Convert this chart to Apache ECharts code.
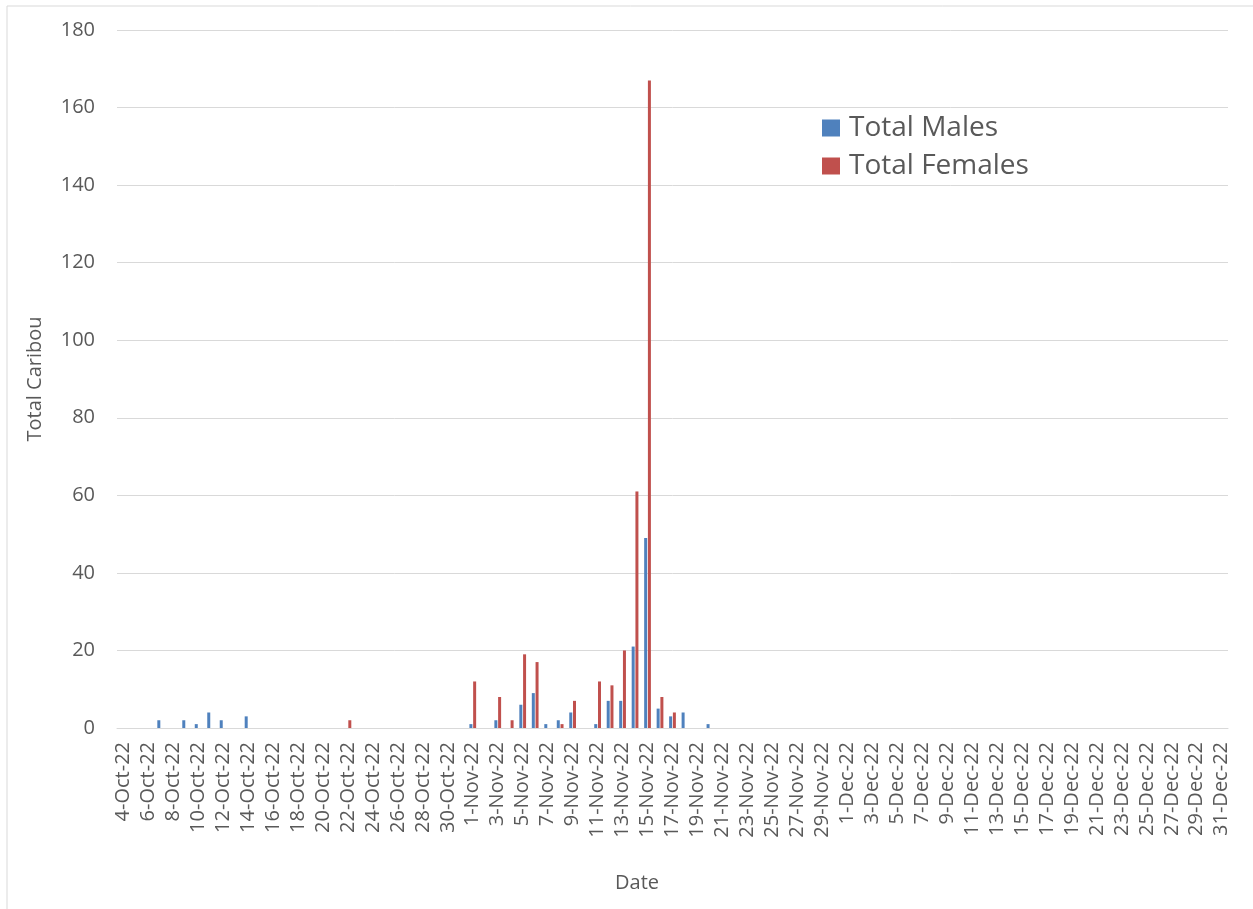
<!DOCTYPE html>
<html>
<head>
<meta charset="utf-8">
<script src="https://cdn.jsdelivr.net/npm/echarts@6/dist/echarts.min.js"></script>
<style>
html,body{margin:0;padding:0;background:#fff;}
#chart{width:1253px;height:909px;}
</style>
</head>
<body>
<div id="chart"></div>
<script>
const octDates = ["4-Oct-22","5-Oct-22","6-Oct-22","7-Oct-22","8-Oct-22","9-Oct-22","10-Oct-22","11-Oct-22","12-Oct-22","13-Oct-22","14-Oct-22","15-Oct-22","16-Oct-22","17-Oct-22","18-Oct-22","19-Oct-22","20-Oct-22","21-Oct-22","22-Oct-22","23-Oct-22","24-Oct-22","25-Oct-22","26-Oct-22","27-Oct-22","28-Oct-22","29-Oct-22","30-Oct-22","31-Oct-22"];
const novDates = ["1-Nov-22","2-Nov-22","3-Nov-22","4-Nov-22","5-Nov-22","6-Nov-22","7-Nov-22","8-Nov-22","9-Nov-22","10-Nov-22","11-Nov-22","12-Nov-22","13-Nov-22","14-Nov-22","15-Nov-22","16-Nov-22","17-Nov-22","18-Nov-22","19-Nov-22","20-Nov-22","21-Nov-22","22-Nov-22","23-Nov-22","24-Nov-22","25-Nov-22","26-Nov-22","27-Nov-22","28-Nov-22","29-Nov-22","30-Nov-22"];
const decDates = ["1-Dec-22","2-Dec-22","3-Dec-22","4-Dec-22","5-Dec-22","6-Dec-22","7-Dec-22","8-Dec-22","9-Dec-22","10-Dec-22","11-Dec-22","12-Dec-22","13-Dec-22","14-Dec-22","15-Dec-22","16-Dec-22","17-Dec-22","18-Dec-22","19-Dec-22","20-Dec-22","21-Dec-22","22-Dec-22","23-Dec-22","24-Dec-22","25-Dec-22","26-Dec-22","27-Dec-22","28-Dec-22","29-Dec-22","30-Dec-22","31-Dec-22"];

const malesOct = [0,0,0,2,0,2,1,4,2,0,3,0,0,0,0,0,0,0,0,0,0,0,0,0,0,0,0,0];
const malesNov = [1,0,2,0,6,9,1,2,4,0,1,7,7,21,49,5,3,4,0,1,0,0,0,0,0,0,0,0,0,0];
const malesDec = [0,0,0,0,0,0,0,0,0,0,0,0,0,0,0,0,0,0,0,0,0,0,0,0,0,0,0,0,0,0,0];

const femalesOct = [0,0,0,0,0,0,0,0,0,0,0,0,0,0,0,0,0,0,2,0,0,0,0,0,0,0,0,0];
const femalesNov = [12,0,8,2,19,17,0,1,7,0,12,11,20,61,167,8,4,0,0,0,0,0,0,0,0,0,0,0,0,0];
const femalesDec = [0,0,0,0,0,0,0,0,0,0,0,0,0,0,0,0,0,0,0,0,0,0,0,0,0,0,0,0,0,0,0];

const categories = octDates.concat(novDates, decDates);
const males = malesOct.concat(malesNov, malesDec);
const females = femalesOct.concat(femalesNov, femalesDec);

const FONT = "Open Sans";
const TXT = "#595959";
const chart = echarts.init(document.getElementById('chart'), null, {renderer:'canvas'});
chart.setOption({
  animation:false,
  backgroundColor:'#ffffff',
  textStyle:{fontFamily:FONT},
  graphic:[
    {type:'rect',shape:{x:7,y:6,width:1270,height:930},style:{fill:'none',stroke:'#d9d9d9',lineWidth:1},silent:true},
    {type:'text',x:637,y:883,style:{text:'Date',fontSize:20,fill:TXT,fontFamily:FONT,align:'center',verticalAlign:'middle'},silent:true}
  ],
  grid:{left:117,right:25,top:30,bottom:181,outerBoundsMode:'none',containLabel:false},
  legend:{
    orient:'vertical',left:822,top:114,padding:0,itemWidth:18,itemHeight:17,itemGap:10,
    icon:'rect',
    textStyle:{fontSize:28,color:TXT,fontFamily:FONT,padding:[0,0,0,4]},
    data:['Total Males','Total Females']
  },
  xAxis:{
    type:'category',data:categories,
    axisLine:{lineStyle:{color:'#d9d9d9',width:1}},
    axisTick:{show:false},
    axisLabel:{interval:1,rotate:90,fontSize:20,color:TXT,margin:14,fontFamily:FONT}
  },
  yAxis:{
    type:'value',min:0,max:180,interval:20,
    name:'Total Caribou',nameLocation:'middle',nameGap:72,nameRotate:90,
    nameTextStyle:{fontSize:20,color:TXT,fontFamily:FONT},
    axisLine:{show:false},axisTick:{show:false},
    axisLabel:{fontSize:20,color:TXT,margin:22,fontFamily:FONT},
    splitLine:{lineStyle:{color:'#d9d9d9',width:1}}
  },
  series:[
    {name:'Total Males',type:'bar',data:males,barWidth:3,barGap:'25%',itemStyle:{color:'#4F81BD'}},
    {name:'Total Females',type:'bar',data:females,barWidth:3,barGap:'25%',itemStyle:{color:'#C0504D'}}
  ]
});
</script>
</body>
</html>
